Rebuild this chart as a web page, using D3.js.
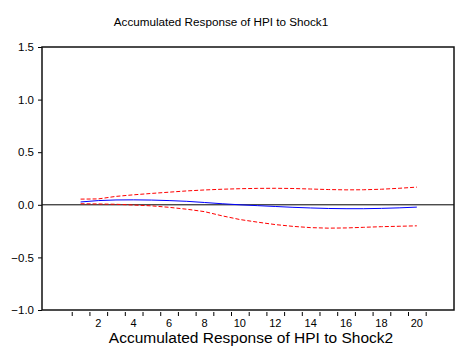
<!DOCTYPE html>
<html>
<head>
<meta charset="utf-8">
<script src="https://cdn.jsdelivr.net/npm/d3@7"></script>
<style>
  body { margin: 0; background: #fff; }
  text { font-family: "Liberation Sans", Arial, sans-serif; fill: #000; }
</style>
</head>
<body>
<div id="wrapper"></div>
<script>
const periods = d3.range(1, 21)
const response = [0.027, 0.040, 0.046, 0.047, 0.045, 0.040, 0.033, 0.022, 0.010, 0.000,
                  -0.008, -0.016, -0.024, -0.030, -0.035, -0.037, -0.037, -0.034, -0.029, -0.022]
const upperBand = [0.054, 0.056, 0.080, 0.095, 0.108, 0.120, 0.132, 0.141, 0.148, 0.153,
                   0.156, 0.157, 0.155, 0.150, 0.145, 0.142, 0.143, 0.148, 0.157, 0.168]
const lowerBand = [0.010, 0.008, 0.005, -0.002, -0.010, -0.024, -0.042, -0.065, -0.105, -0.140,
                   -0.165, -0.188, -0.205, -0.217, -0.222, -0.220, -0.214, -0.208, -0.204, -0.200]
const yTicks = [-1.0, -0.5, 0.0, 0.5, 1.0, 1.5]
const xLabels = [2, 4, 6, 8, 10, 12, 14, 16, 18, 20]
const titleTop = "Accumulated Response of HPI to Shock1"
const titleBottom = "Accumulated Response of HPI to Shock2"

const dimensions = {
    width: 464,
    height: 346,
    margin: { top: 47, right: 10, bottom: 36, left: 42 }
}
dimensions.boundedWidth = dimensions.width - dimensions.margin.left - dimensions.margin.right
dimensions.boundedHeight = dimensions.height - dimensions.margin.top - dimensions.margin.bottom

const svg = d3.select("#wrapper")
    .append("svg")
    .attr("width", dimensions.width)
    .attr("height", dimensions.height)

const bounds = svg.append("g")
    .attr("transform", `translate(${dimensions.margin.left},${dimensions.margin.top})`)

const xScale = d3.scaleLinear()
    .domain([-1.18, 22.1])
    .range([0, dimensions.boundedWidth])

const yScale = d3.scaleLinear()
    .domain([-1.0, 1.5])
    .range([dimensions.boundedHeight, 0])

// y axis
const yAxis = d3.axisLeft(yScale)
    .tickValues(yTicks)
    .tickFormat(d3.format(".1f"))
    .tickSize(4)
    .tickPadding(4)

const yAxisEl = bounds.append("g").call(yAxis)
yAxisEl.select(".domain").remove()
yAxisEl.selectAll("line").attr("stroke", "#000")
yAxisEl.selectAll("text")
    .style("font-size", "11.5px")
    .style("font-family", "'Liberation Sans', Arial, sans-serif")
    .attr("fill", "#000")

// x axis: ticks at period boundaries, labels at even periods
const xAxisEl = bounds.append("g")
    .attr("transform", `translate(0,${dimensions.boundedHeight + 2})`)
xAxisEl.call(d3.axisBottom(xScale)
    .tickValues(d3.range(0.5, 21, 1))
    .tickSize(4)
    .tickFormat(""))
xAxisEl.select(".domain").remove()
xAxisEl.selectAll("line").attr("stroke", "#000")

bounds.append("g")
    .selectAll("text")
    .data(xLabels)
    .join("text")
    .attr("x", d => xScale(d))
    .attr("y", dimensions.boundedHeight + 16.5)
    .attr("text-anchor", "middle")
    .style("font-size", "11px")
    .text(d => d)

// zero line
bounds.append("line")
    .attr("x1", 0)
    .attr("x2", dimensions.boundedWidth)
    .attr("y1", yScale(0))
    .attr("y2", yScale(0))
    .attr("stroke", "#000")
    .attr("stroke-width", 1)

// lines
const lineGen = values => d3.line()
    .x((d, i) => xScale(periods[i]))
    .y(d => yScale(d))(values)

bounds.append("path")
    .attr("d", lineGen(upperBand))
    .attr("fill", "none")
    .attr("stroke", "#ff0000")
    .attr("stroke-width", 1)
    .attr("stroke-dasharray", "4,2")

bounds.append("path")
    .attr("d", lineGen(lowerBand))
    .attr("fill", "none")
    .attr("stroke", "#ff0000")
    .attr("stroke-width", 1)
    .attr("stroke-dasharray", "4,2")

bounds.append("path")
    .attr("d", lineGen(response))
    .attr("fill", "none")
    .attr("stroke", "#0000ff")
    .attr("stroke-width", 1)

// frame
bounds.append("rect")
    .attr("x", 0)
    .attr("y", 0)
    .attr("width", dimensions.boundedWidth)
    .attr("height", dimensions.boundedHeight)
    .attr("fill", "none")
    .attr("stroke", "#111")
    .attr("stroke-width", 1.5)

// titles
svg.append("text")
    .attr("x", 221)
    .attr("y", 25.5)
    .attr("text-anchor", "middle")
    .style("font-size", "11.7px")
    .text(titleTop)

svg.append("text")
    .attr("x", 251)
    .attr("y", 343)
    .attr("text-anchor", "middle")
    .style("font-size", "15.5px")
    .text(titleBottom)
</script>
</body>
</html>
